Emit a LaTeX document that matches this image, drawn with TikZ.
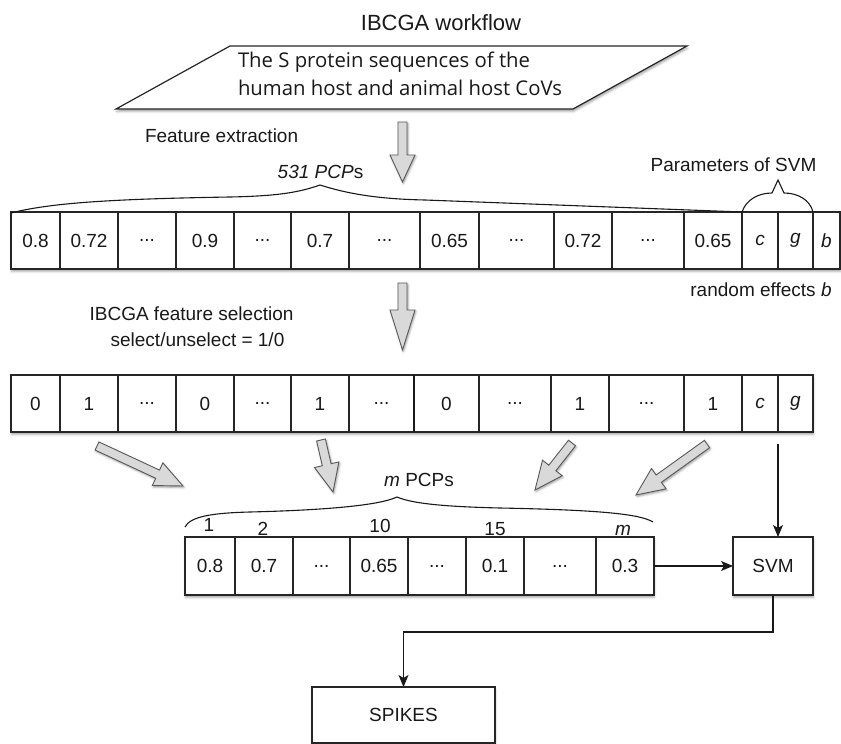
\documentclass[tikz,border=0pt]{standalone}
\usepackage{fontspec}
\setmainfont{Liberation Sans}
\newfontfamily\osans{Open Sans}
\usetikzlibrary{arrows.meta,calc,shadows,shadows.blur}
\newcommand\dd{...}
\newcommand\garrowdraw[3]{%
  \path[garrow] let \p1=(#1), \p2=(#2), \n1={atan2(\y2-\y1,\x2-\x1)}, \n2={veclen(\x2-\x1,\y2-\y1)} in
  {[shift={(\p1)}, rotate=\n1]
   (0pt,-4.5pt) -- ({(\n2-#3)*1pt},-4.5pt) -- ({(\n2-#3)*1pt},-12.5pt) -- ({\n2*1pt},0pt)
   -- ({(\n2-#3)*1pt},12.5pt) -- ({(\n2-#3)*1pt},4.5pt) -- (0pt,4.5pt) -- cycle};
}
\begin{document}
\begin{tikzpicture}[x=1pt,y=-1pt,
  txt/.style={inner sep=0pt, outer sep=0pt, font=\fontsize{19}{22}\selectfont, text=black!90},
  cell/.style={draw=black!85, line width=1.2pt, fill=white, inner sep=0pt, outer sep=0pt,
    minimum height=57pt, font=\fontsize{19}{22}\selectfont, text=black!90},
  garrow/.style={draw=black!65, line width=0.9pt, fill=black!15,
    blur shadow={shadow xshift=1pt, shadow yshift=-1.5pt, shadow blur steps=3, shadow opacity=40}},
  conn/.style={draw=black!90, line width=1.1pt, -{Stealth[length=12pt,width=10pt,inset=3pt]}},
  brace/.style={draw=black!90, line width=1.1pt},
  shad/.style={blur shadow={shadow xshift=0.5pt, shadow yshift=-2.5pt, shadow blur steps=4, shadow opacity=35}},
]
\useasboundingbox (0,0) rectangle (841,744);

% title and input
\node[txt, font=\fontsize{22}{26}\selectfont] (title) at (441,23) {IBCGA workflow};
\path[shad, fill=white, draw=black!85, line width=1.2pt] (230,46) -- (687,46) -- (573,109) -- (116,109) -- cycle;
\node[txt, font=\osans\fontsize{20.3}{28}\selectfont, align=left, anchor=west] (input) at (238,74)
  {The S protein sequences of the\\human host and animal host CoVs};

% labels
\node[txt, anchor=west] (featx) at (145,136) {Feature extraction};
\node[txt] (pcp531) at (320.5,172) {\textit{531 PCP}s};
\node[txt] (params) at (733.5,165) {Parameters of SVM};
\node[txt] (randb) at (761,290) {random effects \textit{b}};
\node[txt] (ibsel) at (191.5,314) {IBCGA feature selection};
\node[txt] (selun) at (197.5,340) {select/unselect = 1/0};
\node[txt] (mpcp) at (419,480) {\textit{m} PCPs};

% row 1
\path[shad] (11,212) rectangle (840,269);
\foreach \a/\b/\lab [count=\i] in {11/60/0.8, 60/118/0.72, 118/176/\dd, 176/234/0.9, 234/291/\dd,
   291/349/0.7, 349/420/\dd, 420/479/0.65, 479/554/\dd, 554/612/0.72, 612/684/\dd, 684/742/0.65,
   742/778/\textit{c}, 778/813/\textit{g}, 813/840/\textit{b}}
  \node[cell, minimum width={(\b-\a)*1pt}] (ra\i) at ({(\a+\b)/2},240.5) {\lab};

% row 2
\path[shad] (11,375) rectangle (813,432);
\foreach \a/\b/\lab [count=\i] in {11/60/0, 60/118/1, 118/176/\dd, 176/234/0, 234/291/\dd,
   291/349/1, 349/414/\dd, 414/479/0, 479/551/\dd, 551/609/1, 609/684/\dd, 684/742/1,
   742/778/\textit{c}, 778/813/\textit{g}}
  \node[cell, minimum width={(\b-\a)*1pt}] (rb\i) at ({(\a+\b)/2},403.5) {\lab};
\draw[black!90, line width=2.4pt] (rb7.north east) -- (rb7.south east);

% row 3
\path[shad] (185,537) rectangle (654,595);
\foreach \a/\b/\lab [count=\i] in {185/235/0.8, 235/293/0.7, 293/350/\dd, 350/408/0.65,
   408/466/\dd, 466/524/0.1, 524/596/\dd, 596/654/0.3}
  \node[cell, minimum height=58pt, minimum width={(\b-\a)*1pt}] (rc\i) at ({(\a+\b)/2},566) {\lab};

% index labels
\node[txt] (i1) at (209,525) {1};
\node[txt] (i2) at (263,529) {2};
\node[txt] (i10) at (380,526) {10};
\node[txt] (i15) at (495,529) {15};
\node[txt] (im) at (623,530) {\textit{m}};

% braces
\draw[brace] (11,213) .. controls (50,203) and (110,199) .. (230,197)
  .. controls (280,196) and (300,192) .. (320,185)
  .. controls (345,193) and (375,199) .. (425,200) -- (742,212);
\draw[brace] (742,212) .. controls (746,200) and (758,193) .. (772,193) -- (778,180) -- (784,193)
  .. controls (798,193) and (810,200) .. (813,212);
\draw[brace] (185,527) .. controls (190,517) and (210,513) .. (250,512)
  .. controls (330,510) and (380,505) .. (397,497)
  .. controls (415,505) and (460,507) .. (500,508)
  .. controls (600,510) and (640,514) .. (653,522);

% SVM and SPIKES
\node[cell, shad, minimum width=80pt, minimum height=58pt] (svm) at (773,566) {SVM};
\node[cell, shad, minimum width=183pt, minimum height=56pt] (spikes) at (403.5,715) {SPIKES};

% gray block arrows
\coordinate (g1a) at (402.5,122); \coordinate (g1b) at (402.5,182);
\coordinate (g2a) at (402.5,283); \coordinate (g2b) at (402.5,350);
\coordinate (g3a) at (97,446);    \coordinate (g3b) at (183,486);
\coordinate (g4a) at (321,440);   \coordinate (g4b) at (333,492);
\coordinate (g5a) at (572,443);   \coordinate (g5b) at (535,490);
\coordinate (g6a) at (707,444);   \coordinate (g6b) at (636,495);
\garrowdraw{g1a}{g1b}{27}
\garrowdraw{g2a}{g2b}{40}
\garrowdraw{g3a}{g3b}{28}
\garrowdraw{g4a}{g4b}{28}
\garrowdraw{g5a}{g5b}{28}
\garrowdraw{g6a}{g6b}{28}

% connectors
\coordinate (cg) at (778,444);
\draw[conn] (cg) -- (cg |- svm.north);
\draw[conn] (rc8.east) -- (svm.west);
\draw[conn] (svm.south) -- ++(0,37) -| (spikes.north);
\end{tikzpicture}
\end{document}
